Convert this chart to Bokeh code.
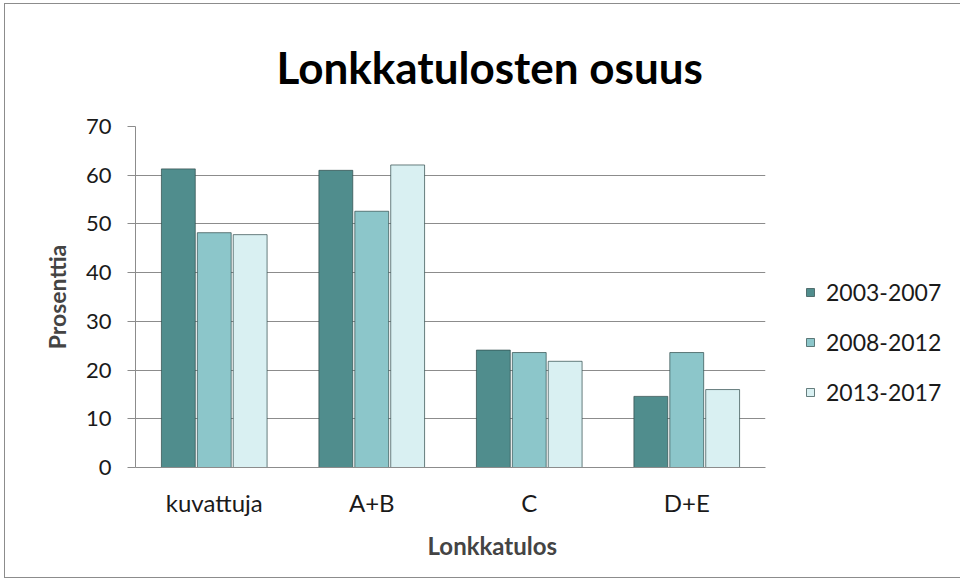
from bokeh.plotting import figure
from bokeh.models import (ColumnDataSource, FactorRange, Range1d, Legend, LegendItem,
                          Title, SingleIntervalTicker)
from bokeh.transform import dodge
from bokeh.embed import file_html
from bokeh.resources import INLINE

categories = ["kuvattuja", "A+B", "C", "D+E"]
series_names = ["2003-2007", "2008-2012", "2013-2017"]
s2003_2007 = [61.3, 61.0, 24.1, 14.6]
s2008_2012 = [48.2, 52.6, 23.6, 23.6]
s2013_2017 = [47.8, 62.1, 21.8, 16.0]
colors = ["#508d8d", "#8cc6ca", "#d9f0f2"]

FONT = "Lato"

source = ColumnDataSource(data=dict(cat=categories, a=s2003_2007, b=s2008_2012, c=s2013_2017))

p = figure(x_range=FactorRange(*categories, range_padding=0), y_range=Range1d(0, 70),
           frame_width=630, frame_height=341, output_backend="svg", toolbar_location=None,
           min_border_left=130, min_border_right=194, min_border_top=122, min_border_bottom=110)
p.styles = {"border": "1px solid #8c8c8c", "margin": "3px 0 0 4px"}

p.title.text = "Lonkkatulosten osuus"
p.title.align = "left"
p.title.offset = 141
p.title.text_font = FONT
p.title.text_font_size = "44px"
p.title.text_font_style = "bold"
p.title.text_color = "#000000"
p.title.standoff = 67

renderers = []
for i, (key, name) in enumerate(zip(["a", "b", "c"], series_names)):
    r = p.vbar(x=dodge("cat", (i - 1) * 0.228, range=p.x_range), top=key, width=0.215,
               source=source, fill_color=colors[i], line_color="#2e4a4a", line_alpha=0.7,
               line_width=1)
    renderers.append((name, r))

legend = Legend(items=[LegendItem(label=n, renderers=[r]) for n, r in renderers],
                location=(40, 61), orientation="vertical",
                label_text_font=FONT, label_text_font_size="23px", label_text_color="#1a1a1a",
                glyph_width=10, glyph_height=10, label_height=26, spacing=22, label_standoff=11,
                border_line_color=None, background_fill_alpha=0, padding=0, margin=0)
p.add_layout(legend, "right")

p.xgrid.grid_line_color = None
p.ygrid.grid_line_color = "#8c8c8c"
p.ygrid.grid_line_width = 1
p.yaxis.ticker = SingleIntervalTicker(interval=10)
p.yaxis.axis_line_color = "#8c8c8c"
p.yaxis.major_tick_line_color = "#8c8c8c"
p.yaxis.major_tick_out = 8
p.yaxis.major_tick_in = 0
p.yaxis.minor_tick_line_color = None
p.yaxis.major_label_standoff = 16
p.yaxis.major_label_text_font_size = "22px"
p.yaxis.axis_label = "Prosenttia"
p.yaxis.axis_label_text_font = FONT
p.yaxis.axis_label_text_font_size = "23px"
p.yaxis.axis_label_text_font_style = "bold"
p.yaxis.axis_label_standoff = 12

p.xaxis.axis_line_color = "#8c8c8c"
p.xaxis.major_tick_line_color = None
p.xaxis.major_label_standoff = 14
p.xaxis.major_label_text_font_size = "24px"

for ax in (p.xaxis, p.yaxis):
    ax.major_label_text_font = FONT
    ax.major_label_text_color = "#1a1a1a"

xt = Title(text="Lonkkatulos", align="left", offset=292, text_font=FONT,
           text_font_size="24px", text_font_style="bold", standoff=18)
p.add_layout(xt, "below")

p.outline_line_color = None

open("out.html", "w").write(file_html(p, INLINE))
